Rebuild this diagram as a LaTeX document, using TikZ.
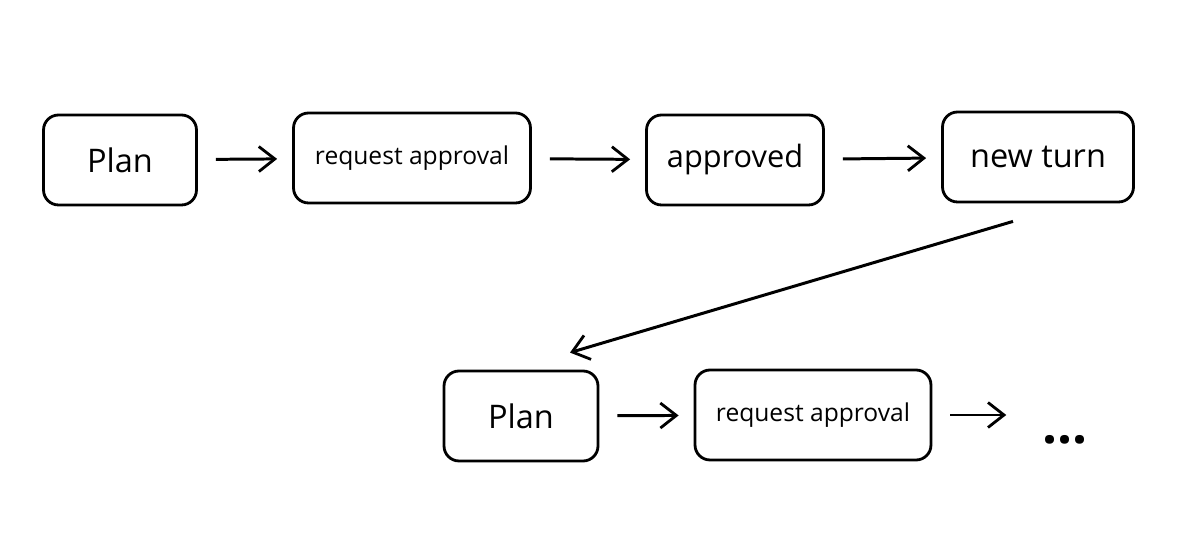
\documentclass[tikz,border=0pt]{standalone}
\usepackage{fontspec}
\setmainfont{Open Sans}
\usetikzlibrary{arrows.meta,calc}

\begin{document}
\begin{tikzpicture}[x=0.02cm, y=-0.02cm]
    \tikzstyle{state}=[rectangle, draw=black, line width=1.6pt, rounded corners=0.3cm, minimum height=1.8cm, inner sep=0pt];
    \tikzstyle{flow}=[-{Straight Barb[length=3.2mm, width=5mm, line width=1.6pt]}, line width=1.7pt, shorten <=0.36cm, shorten >=0.3cm];

    \useasboundingbox (0, 0) rectangle (1200, 536);

    \node[minimum width=3.06cm] (plan) at (120, 160) [state]
    {\fontsize{18.5}{22}\selectfont Plan};
    \node[minimum width=4.74cm] (request) at (412, 158) [state]
    {\fontsize{14}{17}\selectfont request approval};
    \node[minimum width=3.54cm, minimum height=1.9cm] (approved) at (735, 160) [state]
    {\fontsize{17.5}{21}\selectfont approved};
    \node[minimum width=3.82cm, minimum height=1.96cm] (turn) at (1038, 157) [state]
    {\fontsize{18.5}{22}\selectfont new turn};

    \node[minimum width=3.08cm] (plantwo) at (521, 416) [state]
    {\fontsize{18.5}{22}\selectfont Plan};
    \node[minimum width=4.72cm, minimum height=1.76cm] (requesttwo) at (813, 415) [state]
    {\fontsize{14}{17}\selectfont request approval};
    \node (more) at (1065, 440) {\fontsize{30}{34}\selectfont\bfseries ...};

    % first row
    \draw[flow] (plan) -- (request);
    \draw[flow] (request) -- (approved);
    \draw[flow] (approved) -- (turn);

    % back to the start of a new row
    \draw[flow, shorten <=0pt, shorten >=0pt] ($(turn.south)+(-25, 18)$) -- ($(plantwo.north)+(49, -17)$);

    % second row
    \draw[flow] (plantwo) -- (requesttwo);
    \draw[flow, shorten >=0.6cm] (requesttwo.east) -- (more.west |- requesttwo.east);
\end{tikzpicture}
\end{document}
